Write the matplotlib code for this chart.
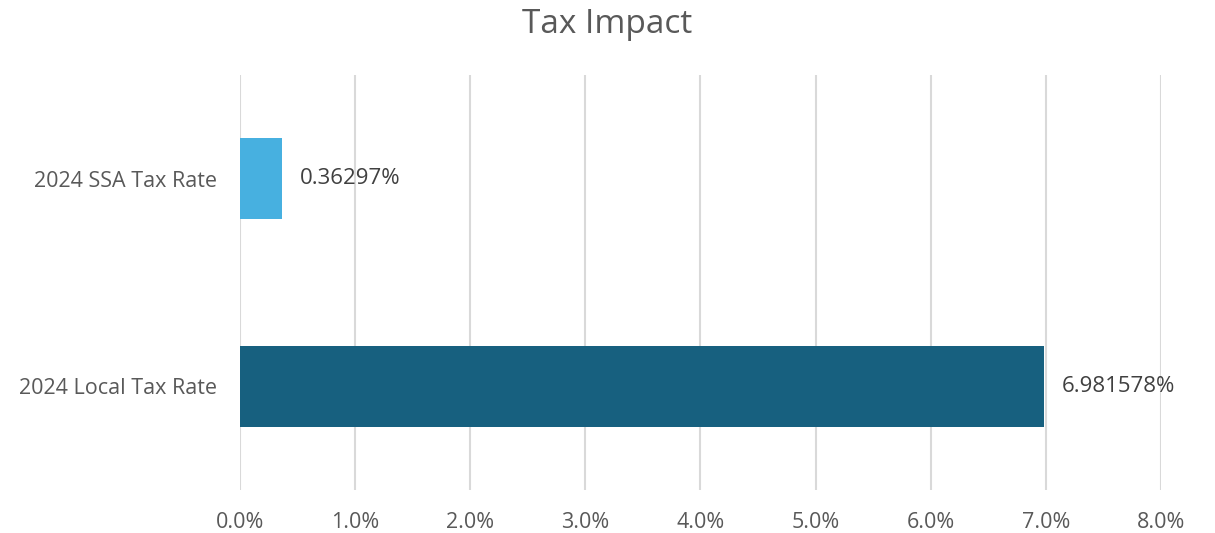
import matplotlib.pyplot as plt
from matplotlib.ticker import FuncFormatter

# datos del gráfico
categorias = ["2024 Local Tax Rate", "2024 SSA Tax Rate"]
valores = [6.981578, 0.36297]
etiquetas = ["6.981578%", "0.36297%"]
colores = ["#17607F", "#47B0E0"]
ticks_x = [0, 1, 2, 3, 4, 5, 6, 7, 8]

plt.rcParams['font.family'] = ['Open Sans', 'DejaVu Sans']
texto = "#595959"

fig = plt.figure(figsize=(12.15, 5.33), dpi=100)
ax = fig.add_axes([0.1975, 0.0807, 0.7580, 0.7784])

pos = list(range(len(categorias)))
ax.barh(pos, valores, height=0.39, color=colores, zorder=3)

# etiquetas de datos
for y, v, t in zip(pos, valores, etiquetas):
    ax.annotate(t, (v, y), xytext=(13, 0), textcoords="offset points",
                va="center", ha="left", fontsize=16, color="#404040")

ax.set_xlim(0, 8)
ax.set_ylim(-0.5, 1.5)
ax.set_xticks(ticks_x)
ax.xaxis.set_major_formatter(FuncFormatter(lambda x, p: f"{x:.1f}%"))
ax.set_yticks(pos)
ax.set_yticklabels(categorias)
ax.tick_params(axis="x", length=0, pad=16, labelsize=15.5, labelcolor=texto)
ax.tick_params(axis="y", length=0, pad=16.5, labelsize=15.5, labelcolor=texto)
ax.grid(axis="x", color="#D9D9D9", linewidth=1.5, zorder=0)
for s in ax.spines.values():
    s.set_visible(False)

fig.suptitle("Tax Impact", y=0.985, fontsize=24, color=texto)

fig.savefig("out.png", dpi=100, facecolor="white")
